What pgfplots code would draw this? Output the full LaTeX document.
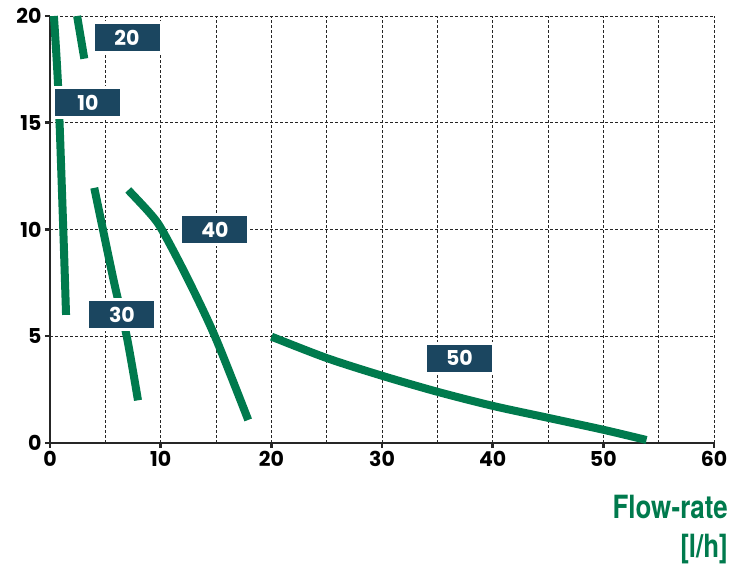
\documentclass[border=0pt]{standalone}
\usepackage{pgfplots}
\pgfplotsset{compat=1.18}
\usepackage{fontspec}
\setmainfont{Poppins}
\newfontfamily\condfont[FakeStretch=0.81]{TeX Gyre Heros}
\definecolor{pgreen}{HTML}{007A4D}
\definecolor{pblue}{HTML}{1B4660}
\tikzset{
  curve/.style={pgreen, line width=8pt, mark=none, line cap=butt},
  boxlbl/.style={fill=pblue, draw=white, line width=3pt, text=white,
    font=\fontsize{20.5}{21}\selectfont\bfseries, minimum width=68pt, minimum height=30pt, inner sep=0pt},
}
\begin{document}
\begin{tikzpicture}[x=1pt,y=1pt]
\path[use as bounding box] (-50,-121) rectangle (688,443);
\begin{axis}[
  at={(0,0)}, anchor=south west,
  scale only axis,
  width=664pt, height=427pt,
  xmin=0, xmax=60, ymin=0, ymax=20,
  xtick={0,10,...,60},
  minor xtick={5,15,...,55},
  ytick={0,5,...,20},
  axis x line*=bottom, axis y line*=left,
  axis line style={-, line width=2.5pt, black!85},
  tick align=outside,
  major tick length=5pt,
  minor tick length=0pt,
  tick style={line width=2.5pt, black!85},
  grid=both,
  major grid style={black!85, line width=0.9pt, dash pattern=on 3pt off 2pt},
  minor grid style={black!85, line width=0.9pt, dash pattern=on 3pt off 2pt},
  ticklabel style={font=\fontsize{20.5}{21}\selectfont\bfseries, text=black},
  /pgf/number format/assume math mode=true,
  clip=false,
]
% 10
\addplot[curve, smooth] coordinates {(0.35,20) (0.75,16.5) (1.2,10) (1.45,6)};
% 20
\addplot[curve] coordinates {(2.45,20) (3.1,18)};
% 30
\addplot[curve, smooth] coordinates {(4.0,11.95) (5.8,7.5) (6.93,5) (7.95,2.0)};
% 40
\addplot[curve, smooth] coordinates {(7.07,11.85) (9.03,10.76) (10.1,10) (12.35,7.79) (14.9,5) (17.91,1.08)};
% 50
\addplot[curve, smooth] coordinates {(20.02,4.98) (25,3.98) (30,3.15) (35,2.4) (40,1.74) (45,1.18) (50,0.62) (53.9,0.14)};
\node[boxlbl] at (axis cs:6.96,18.97) {20};
\node[boxlbl] at (axis cs:3.43,15.93) {10};
\node[boxlbl] at (axis cs:14.9,9.98) {40};
\node[boxlbl] at (axis cs:6.5,6.0) {30};
\node[boxlbl] at (axis cs:37.0,3.98) {50};
\end{axis}
\node[anchor=base east, inner sep=0pt, text=pgreen, font=\condfont\bfseries\fontsize{32}{32}\selectfont] at (678,-75) {Flow-rate};
\node[anchor=base east, inner sep=0pt, text=pgreen, font=\condfont\bfseries\fontsize{32}{32}\selectfont] at (678,-114) {[l/h]};
\end{tikzpicture}
\end{document}
